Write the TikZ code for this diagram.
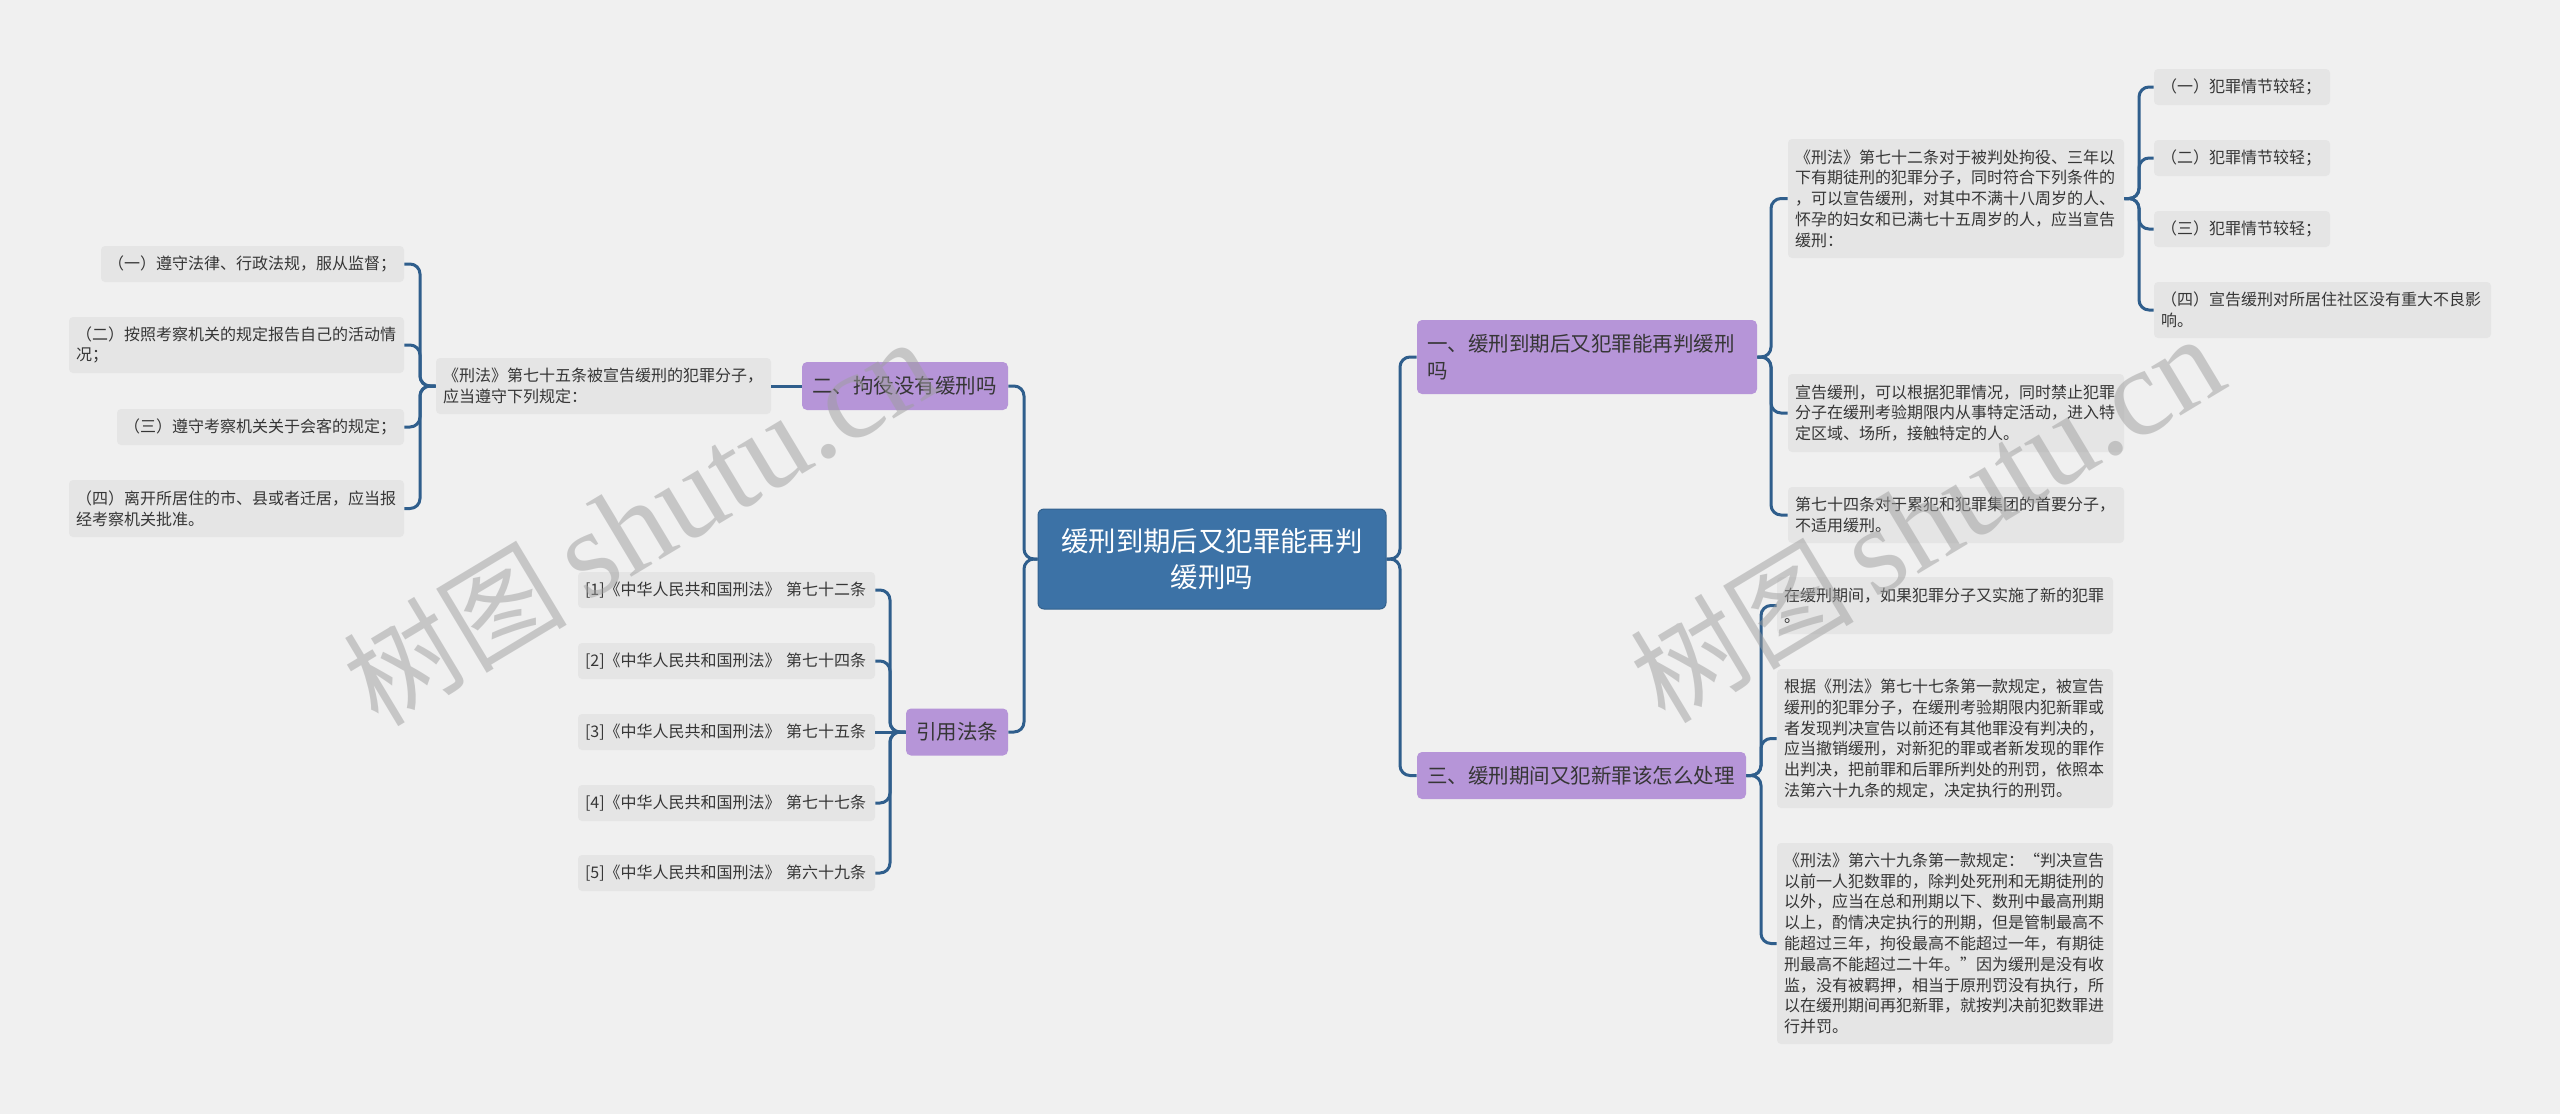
\documentclass[tikz,border=0pt]{standalone}
\usepackage{fontspec}
\newfontfamily\cjk{Noto Sans CJK SC}
\newfontfamily\wmserif{Liberation Serif}
\definecolor{bgc}{HTML}{F0F0F0}
\definecolor{leafc}{HTML}{E5E5E5}
\definecolor{purpc}{HTML}{B695D8}
\definecolor{rootc}{HTML}{3C72A6}
\definecolor{linec}{HTML}{2F5E8C}
\definecolor{txtc}{HTML}{363636}
\definecolor{wmc}{HTML}{9E9E9E}
\begin{document}
\begin{tikzpicture}[x=0.5pt,y=-0.5pt,
  leafbox/.style={fill=leafc, rounded corners=2pt, inner xsep=3.5pt, inner ysep=1pt, align=left, text=txtc, font=\cjk\fontsize{8}{10.4}\selectfont},
  topicbox/.style={fill=purpc, rounded corners=2.5pt, inner xsep=5pt, inner ysep=1pt, align=left, text=txtc, font=\cjk\fontsize{10.25}{13.3}\selectfont},
  rootbox/.style={fill=rootc, draw=rootc!85!black, line width=0.5pt, rounded corners=3pt, inner xsep=5pt, align=center, text=white, font=\cjk\fontsize{13.7}{18.3}\selectfont},
  conn/.style={draw=linec, line width=1.5pt, rounded corners=5pt},
  wm/.style={text=wmc, text opacity=0.5, inner sep=0pt}]
\fill[bgc] (0,0) rectangle (2560,1114);
\useasboundingbox (0,0) rectangle (2560,1114);

% root
\node[rootbox, text width=164pt, minimum height=50pt] (C) at (1212,559) {缓刑到期后又犯罪能再判\\缓刑吗};

% left side
\node[topicbox, text width=93pt, minimum height=24pt] (B2) at (905,386) {二、拘役没有缓刑吗};
\node[topicbox, text width=41pt, minimum height=23.5pt] (B4) at (957,732) {引用法条};

\node[leafbox, text width=160.5pt, minimum height=28pt] (K75) at (603.5,386) {《刑法》第七十五条被宣告缓刑的犯罪分子，\\应当遵守下列规定：};
\node[leafbox, text width=144.5pt, minimum height=18pt] (L1) at (252.5,264) {（一）遵守法律、行政法规，服从监督；};
\node[leafbox, text width=160.5pt, minimum height=28pt] (L2) at (236.5,345) {（二）按照考察机关的规定报告自己的活动情\\况；};
\node[leafbox, text width=136.5pt, minimum height=18pt] (L3) at (260.5,427) {（三）遵守考察机关关于会客的规定；};
\node[leafbox, text width=160.5pt, minimum height=28.5pt] (L4) at (236.5,508.5) {（四）离开所居住的市、县或者迁居，应当报\\经考察机关批准。};

\node[leafbox, text width=141.5pt, minimum height=18pt] (R1) at (726.5,590) {[1]《中华人民共和国刑法》~第七十二条};
\node[leafbox, text width=141.5pt, minimum height=18pt] (R2) at (726.5,661) {[2]《中华人民共和国刑法》~第七十四条};
\node[leafbox, text width=141.5pt, minimum height=18pt] (R3) at (726.5,732) {[3]《中华人民共和国刑法》~第七十五条};
\node[leafbox, text width=141.5pt, minimum height=18pt] (R4) at (726.5,803) {[4]《中华人民共和国刑法》~第七十七条};
\node[leafbox, text width=141.5pt, minimum height=18pt] (R5) at (726.5,873) {[5]《中华人民共和国刑法》~第六十九条};

% right side
\node[topicbox, text width=160pt, minimum height=37pt] (A1) at (1587,357) {一、缓刑到期后又犯罪能再判缓刑\\吗};
\node[topicbox, text width=154.5pt, minimum height=23.5pt] (A3) at (1581.5,775.5) {三、缓刑期间又犯新罪该怎么处理};

\node[leafbox, text width=161pt, minimum height=59.5pt] (K72) at (1956,198.5) {《刑法》第七十二条对于被判处拘役、三年以\\下有期徒刑的犯罪分子，同时符合下列条件的\\，可以宣告缓刑，对其中不满十八周岁的人、\\怀孕的妇女和已满七十五周岁的人，应当宣告\\缓刑：};
\node[leafbox, text width=81pt, minimum height=18pt] (D1) at (2242,87) {（一）犯罪情节较轻；};
\node[leafbox, text width=81pt, minimum height=18pt] (D2) at (2242,158) {（二）犯罪情节较轻；};
\node[leafbox, text width=81pt, minimum height=18pt] (D3) at (2242,229) {（三）犯罪情节较轻；};
\node[leafbox, text width=161.5pt, minimum height=28pt] (D4) at (2322.5,310) {（四）宣告缓刑对所居住社区没有重大不良影\\响。};

\node[leafbox, text width=161pt, minimum height=39pt] (X1) at (1956,413) {宣告缓刑，可以根据犯罪情况，同时禁止犯罪\\分子在缓刑考验期限内从事特定活动，进入特\\定区域、场所，接触特定的人。};
\node[leafbox, text width=161pt, minimum height=28pt] (X2) at (1956,515) {第七十四条对于累犯和犯罪集团的首要分子，\\不适用缓刑。};

\node[leafbox, text width=161pt, minimum height=28.5pt] (Y1) at (1945,605.5) {在缓刑期间，如果犯罪分子又实施了新的犯罪\\。};
\node[leafbox, text width=161pt, minimum height=69.5pt] (Y2) at (1945,738.5) {根据《刑法》第七十七条第一款规定，被宣告\\缓刑的犯罪分子，在缓刑考验期限内犯新罪或\\者发现判决宣告以前还有其他罪没有判决的，\\应当撤销缓刑，对新犯的罪或者新发现的罪作\\出判决，把前罪和后罪所判处的刑罚，依照本\\法第六十九条的规定，决定执行的刑罚。};
\node[leafbox, text width=161pt, minimum height=100.5pt] (Y3) at (1945,943.5) {《刑法》第六十九条第一款规定：“判决宣告\\以前一人犯数罪的，除判处死刑和无期徒刑的\\以外，应当在总和刑期以下、数刑中最高刑期\\以上，酌情决定执行的刑期，但是管制最高不\\能超过三年，拘役最高不能超过一年，有期徒\\刑最高不能超过二十年。”因为缓刑是没有收\\监，没有被羁押，相当于原刑罚没有执行，所\\以在缓刑期间再犯新罪，就按判决前犯数罪进\\行并罚。};

% bus coordinates
\coordinate (busR) at (1400,0);
\coordinate (busL) at (1024,0);
\coordinate (busK75) at (420,0);
\coordinate (busB4) at (890,0);
\coordinate (busA1) at (1771,0);
\coordinate (busK72) at (2139,0);
\coordinate (busA3) at (1761,0);

% connectors
\draw[conn] (C.east) -- (C.east -| busR) |- (A1.west);
\draw[conn] (C.east) -- (C.east -| busR) |- (A3.west);
\draw[conn] (C.west) -- (C.west -| busL) |- (B2.east);
\draw[conn] (C.west) -- (C.west -| busL) |- (B4.east);

\draw[conn] (B2.west) -- (K75.east);
\foreach \n in {L1,L2,L3,L4}
  \draw[conn] (K75.west) -- (K75.west -| busK75) |- (\n.east);

\draw[conn] (B4.west) -- (R3.east);
\foreach \n in {R1,R2,R4,R5}
  \draw[conn] (B4.west) -- (B4.west -| busB4) |- (\n.east);

\foreach \n in {K72,X1,X2}
  \draw[conn] (A1.east) -- (A1.east -| busA1) |- (\n.west);
\foreach \n in {D1,D2,D3,D4}
  \draw[conn] (K72.east) -- (K72.east -| busK72) |- (\n.west);
\foreach \n in {Y1,Y2,Y3}
  \draw[conn] (A3.east) -- (A3.east -| busA3) |- (\n.west);

% watermarks
\node[wm, rotate=31] (W1) at (640,522) {{\cjk\fontsize{56}{60}\selectfont 树图}\hspace{10pt}{\wmserif\fontsize{62}{62}\selectfont shutu.cn}};
\node[wm, rotate=31] (W2) at (1927,519) {{\cjk\fontsize{56}{60}\selectfont 树图}\hspace{10pt}{\wmserif\fontsize{62}{62}\selectfont shutu.cn}};
\end{tikzpicture}
\end{document}
